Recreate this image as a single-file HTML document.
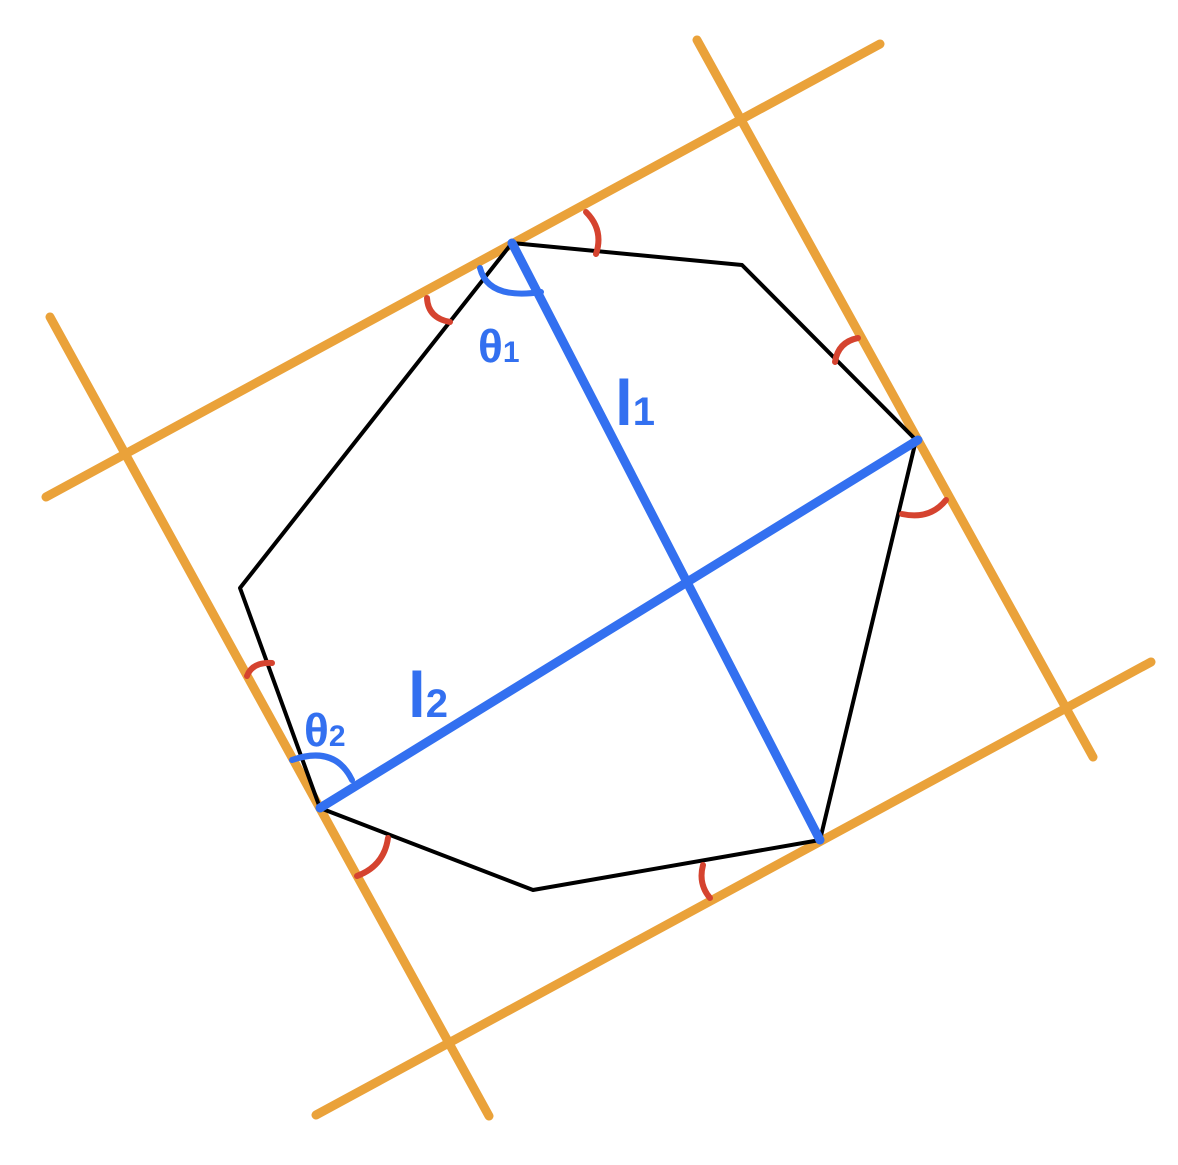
<!DOCTYPE html>
<html><head><meta charset="utf-8"><style>
html,body{margin:0;padding:0;background:#fff;}
svg{display:block;}
text{font-family:"Liberation Sans",sans-serif;font-weight:bold;fill:#3370f0;}
</style></head><body>
<svg width="1178" height="1165" viewBox="0 0 1178 1165" xmlns="http://www.w3.org/2000/svg">
<g stroke="#eaa23a" stroke-width="9" stroke-linecap="round">
<line x1="46" y1="497" x2="880" y2="44"/>
<line x1="697" y1="40" x2="1093" y2="757"/>
<line x1="316" y1="1115" x2="1151" y2="662"/>
<line x1="50" y1="317" x2="489" y2="1116"/>
</g>
<polygon points="512,243 742,265 916,440 820,840 533,890 320,808 240,588" fill="none" stroke="#000" stroke-width="4" stroke-linejoin="round"/>
<g fill="none" stroke="#d5432f" stroke-width="6" stroke-linecap="round">
<path d="M427,298 Q428,318 450,322"/>
<path d="M586,212 Q604,230 596,254"/>
<path d="M835,362 Q838,342 858,338"/>
<path d="M902,514 Q930,520 946,500"/>
<path d="M247,676 Q252,662 272,663"/>
<path d="M357,876 Q384,866 388,838"/>
<path d="M703,865 Q698,884 710,898"/>
</g>
<g stroke="#3370f0" stroke-width="9" stroke-linecap="round" fill="none">
<line x1="512" y1="243" x2="820" y2="840"/>
<line x1="320" y1="808" x2="918" y2="440"/>
<path stroke-width="6" d="M480,268 Q488,300 541,292"/>
<path stroke-width="6" d="M292,760 Q335,745 352,780"/>
</g>
<text x="478" y="362" font-size="46">θ<tspan font-size="30">1</tspan></text>
<text x="615" y="425" font-size="64">l<tspan font-size="40">1</tspan></text>
<text x="408" y="717" font-size="64">l<tspan font-size="40">2</tspan></text>
<text x="304" y="746" font-size="46">θ<tspan font-size="30">2</tspan></text>
</svg>
</body></html>
